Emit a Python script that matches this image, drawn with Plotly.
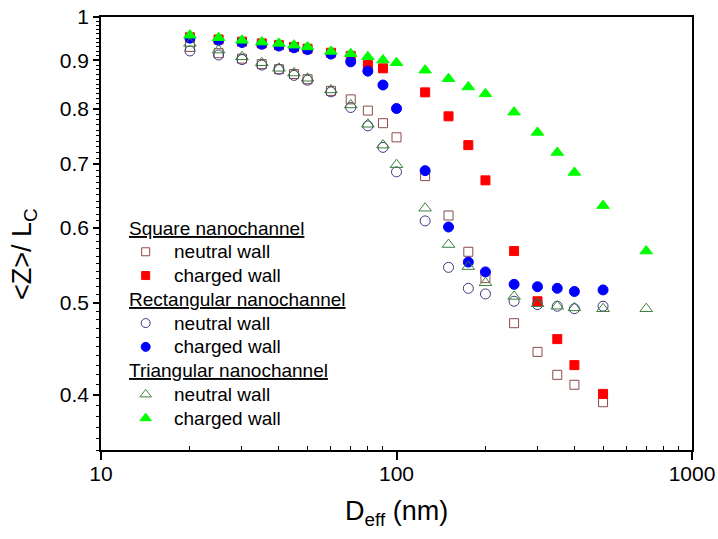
import plotly.graph_objects as go

# Effective channel diameter (nm)
d_eff = [20, 25, 30, 35, 40, 45, 50, 60, 70, 80, 90, 100, 125, 150, 175, 200, 250, 300, 350, 400, 500]
d_eff_sq_charged = [20, 25, 30, 35, 40, 45, 50, 60, 70, 80, 90, 125, 150, 175, 200, 250, 300, 350, 400, 500]
d_eff_tri = d_eff + [700]

# <Z>/Lc for each channel geometry and wall condition
square_neutral = [0.930, 0.916, 0.904, 0.892, 0.881, 0.871, 0.860, 0.836, 0.819, 0.797, 0.773,
                  0.747, 0.680, 0.618, 0.566, 0.531, 0.476, 0.444, 0.420, 0.410, 0.393]
square_charged = [0.952, 0.947, 0.942, 0.938, 0.934, 0.930, 0.926, 0.917, 0.910, 0.890, 0.883,
                  0.833, 0.786, 0.733, 0.673, 0.567, 0.502, 0.458, 0.430, 0.401]
rect_neutral = [0.921, 0.912, 0.902, 0.890, 0.881, 0.868, 0.858, 0.834, 0.803, 0.768, 0.729,
                0.687, 0.610, 0.545, 0.518, 0.511, 0.502, 0.498, 0.496, 0.493, 0.496]
rect_charged = [0.950, 0.945, 0.940, 0.936, 0.932, 0.928, 0.924, 0.914, 0.897, 0.877, 0.848,
                0.801, 0.689, 0.601, 0.552, 0.539, 0.523, 0.520, 0.518, 0.514, 0.516]
tri_neutral = [0.938, 0.923, 0.908, 0.895, 0.883, 0.873, 0.862, 0.838, 0.808, 0.771, 0.733,
               0.699, 0.629, 0.576, 0.546, 0.525, 0.508, 0.499, 0.496, 0.494, 0.493, 0.493]
tri_charged = [0.957, 0.951, 0.945, 0.941, 0.938, 0.934, 0.930, 0.920, 0.915, 0.908, 0.901,
               0.895, 0.879, 0.861, 0.844, 0.830, 0.794, 0.756, 0.720, 0.686, 0.633, 0.567]

y_ticks = [0.4, 0.5, 0.6, 0.7, 0.8, 0.9, 1.0]
y_ticktext = ["0.4", "0.5", "0.6", "0.7", "0.8", "0.9", "1"]
x_ticks = [10, 100, 1000]
x_ticktext = ["10", "100", "1000"]

group_titles = ["Square nanochannel", "Rectangular nanochannel", "Triangular nanochannel"]
wall_labels = ["neutral wall", "charged wall"]
x_title = "D<sub>eff</sub> (nm)"
y_title = "&lt;Z&gt;/ L<sub>C</sub>"

FONT = "Liberation Sans, Arial, sans-serif"

# (x values, y values, symbol, colour, size) in key order
series = [
    (d_eff, square_neutral, "square-open", "#8c4a4a", 9),
    (d_eff_sq_charged, square_charged, "square", "#ff0000", 9),
    (d_eff, rect_neutral, "circle-open", "#3c3c80", 10),
    (d_eff, rect_charged, "circle", "#0000ff", 10),
    (d_eff_tri, tri_neutral, "triangle-up-open", "#3f7f3f", 11),
    (d_eff_tri, tri_charged, "triangle-up", "#00ff00", 11),
]

fig = go.Figure()
for i, (xs, ys, sym, col, size) in enumerate(series):
    fig.add_trace(go.Scatter(
        x=xs, y=ys, mode="markers",
        name=f"{group_titles[i // 2]} – {wall_labels[i % 2]}",
        showlegend=False, hoverinfo="x+y",
        marker=dict(symbol=sym, size=size, color=col, line=dict(width=1, color=col)),
    ))

# Key drawn on an overlay axis spanning the plot area (0..1 in both directions)
KEY_TITLE_X = 0.044
KEY_SYMBOL_X = 0.0756
KEY_TEXT_X = 0.1196
KEY_TOP = 0.5127
KEY_STEP = 0.0549

annotations = []
row = 0
for g in range(3):
    annotations.append(dict(
        x=KEY_TITLE_X, y=KEY_TOP - row * KEY_STEP, xref="paper", yref="paper",
        text=f"<u>{group_titles[g]}</u>", showarrow=False,
        xanchor="left", yanchor="middle", font=dict(size=19, family=FONT, color="black"),
    ))
    row += 1
    for k in range(2):
        _, _, sym, col, size = series[2 * g + k]
        ky = KEY_TOP - row * KEY_STEP
        fig.add_trace(go.Scatter(
            x=[KEY_SYMBOL_X], y=[ky], xaxis="x2", yaxis="y2", mode="markers",
            showlegend=False, hoverinfo="skip", cliponaxis=False,
            marker=dict(symbol=sym, size=size - 1, color=col, line=dict(width=1, color=col)),
        ))
        annotations.append(dict(
            x=KEY_TEXT_X, y=ky, xref="paper", yref="paper",
            text=wall_labels[k], showarrow=False,
            xanchor="left", yanchor="middle", font=dict(size=19, family=FONT, color="black"),
        ))
        row += 1

# Axis titles
annotations.append(dict(
    x=0.5, y=-0.1455, xref="paper", yref="paper", text=x_title, showarrow=False,
    xanchor="center", yanchor="middle", font=dict(size=27, family=FONT, color="black"),
))
annotations.append(dict(
    x=-0.1303, y=0.4527, xref="paper", yref="paper", text=y_title, showarrow=False,
    textangle=-90, xanchor="center", yanchor="middle",
    font=dict(size=27, family=FONT, color="black"),
))

minor_x = [m * 10 ** e for e in (1, 2) for m in range(2, 10)]
minor_y = [round(0.35 + 0.01 * i, 2) for i in range(66)]

fig.update_layout(
    width=718, height=539,
    margin=dict(l=101, r=26, t=17, b=89),
    plot_bgcolor="white", paper_bgcolor="white",
    font=dict(family=FONT, color="black"),
    showlegend=False,
    annotations=annotations,
    xaxis=dict(
        type="log", range=[1, 3], automargin=False,
        tickmode="array", tickvals=x_ticks, ticktext=x_ticktext,
        ticks="outside", ticklen=8, tickwidth=1.5, tickcolor="black",
        tickfont=dict(size=21, family=FONT), ticklabelstandoff=-4,
        showline=True, linecolor="black", linewidth=1.5, mirror=True,
        showgrid=False, zeroline=False,
        minor=dict(tickmode="array", tickvals=minor_x, ticks="inside", ticklen=4,
                   tickcolor="black", tickwidth=1, showgrid=False),
    ),
    yaxis=dict(
        type="log", range=[-0.4559, 0], automargin=False,
        tickmode="array", tickvals=y_ticks, ticktext=y_ticktext,
        ticks="outside", ticklen=6, tickwidth=1.5, tickcolor="black",
        tickfont=dict(size=21, family=FONT),
        showline=True, linecolor="black", linewidth=1.5, mirror=True,
        showgrid=False, zeroline=False,
        minor=dict(tickmode="array", tickvals=minor_y, ticks="outside", ticklen=3,
                   tickcolor="black", tickwidth=1, showgrid=False),
    ),
    xaxis2=dict(overlaying="x", range=[0, 1], visible=False, fixedrange=True),
    yaxis2=dict(overlaying="y", range=[0, 1], visible=False, fixedrange=True),
)

fig.write_html("out.html")
